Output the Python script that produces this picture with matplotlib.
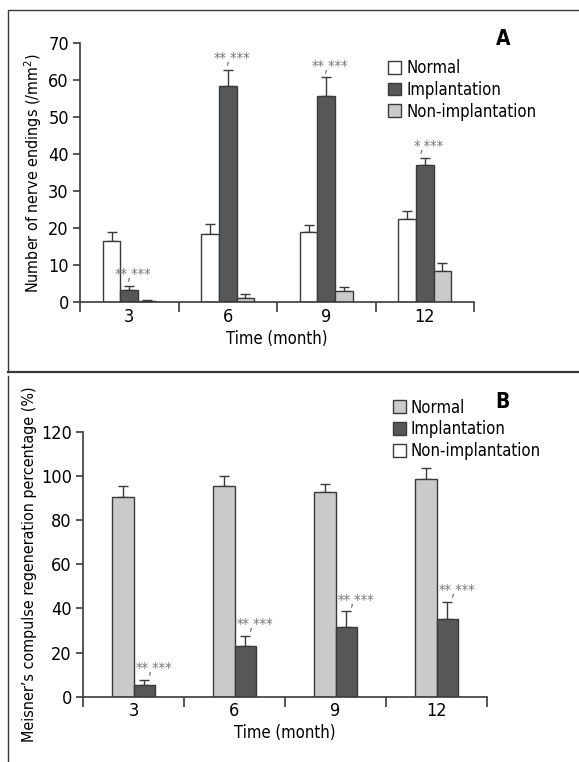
import numpy as np
import matplotlib
matplotlib.use('Agg')
import matplotlib.pyplot as plt
from matplotlib.patches import Patch
from matplotlib.lines import Line2D

plt.rcParams['font.family'] = ['DejaVu Sans']
plt.rcParams['font.stretch'] = 'condensed'

months = ['3', '6', '9', '12']
series_a = ['Normal', 'Implantation', 'Non-implantation']
# panel A: number of nerve endings
a_normal = [16.5, 18.5, 18.8, 22.3]
a_normal_err = [2.5, 2.5, 1.9, 2.2]
a_impl = [3.3, 58.4, 55.7, 37.1]
a_impl_err = [1.1, 4.4, 5.0, 1.8]
a_non = [0.3, 1.1, 2.9, 8.5]
a_non_err = [0.3, 1.0, 1.2, 2.1]
a_marks = ['**,***', '**,***', '**,***', '*,***']

# panel B: Meisner's corpuscle regeneration
b_normal = [90.5, 95.2, 92.8, 98.8]
b_normal_err = [4.8, 4.8, 3.6, 4.8]
b_impl = [5.1, 22.9, 31.4, 35.3]
b_impl_err = [2.4, 4.8, 7.2, 7.8]
b_marks = ['**,***', '**,***', '**,***', '**,***']

dark = '#555759'
light = '#c9cacc'
edge = '#3a3a3a'
W, H = 579, 762
fs = 11.5
tfs = 13

fig = plt.figure(figsize=(W / 100, H / 100), dpi=100)

# panel frames
fig.add_artist(Line2D([8 / W, 8 / W, 1], [1 - 372 / H, 1 - 10 / H, 1 - 10 / H], color=edge, lw=1))
fig.add_artist(Line2D([8 / W, 1], [1 - 372 / H, 1 - 372 / H], color=edge, lw=1.6))
fig.add_artist(Line2D([8 / W, 8 / W], [0, 1 - 376 / H], color=edge, lw=1))


def style(ax, ymax, step):
    for s in ['top', 'right']:
        ax.spines[s].set_visible(False)
    for s in ['left', 'bottom']:
        ax.spines[s].set_color(edge)
        ax.spines[s].set_linewidth(1.2)
    ax.set_xlim(0, 4)
    ax.set_ylim(0, ymax)
    ax.set_yticks(np.arange(0, ymax + 1, step))
    ax.set_xticks(np.arange(5))
    ax.set_xticklabels([])
    ax.set_xticks(np.arange(4) + 0.5, minor=True)
    ax.set_xticklabels(months, minor=True)
    ax.tick_params(axis='x', which='major', direction='out', length=7, width=1.2, color=edge)
    ax.tick_params(axis='x', which='minor', length=0, labelsize=tfs, pad=4)
    ax.tick_params(axis='y', direction='out', length=5, width=1.2, color=edge, labelsize=tfs, pad=3)
    ax.set_xlabel('Time (month)', fontsize=fs + 0.5, labelpad=3)


def bars(ax, x, vals, errs, color):
    ax.bar(x, vals, width=bw, color=color, edgecolor=edge, linewidth=1, zorder=2)
    ax.errorbar(x, vals, yerr=[np.zeros(len(vals)), errs], fmt='none', ecolor=edge,
                elinewidth=1, capsize=3.5, capthick=1, zorder=1)


def legend(ax, colors, anchor):
    ax.legend(handles=[Patch(facecolor=c, edgecolor=edge, label=l) for c, l in zip(colors, series_a)],
              loc='upper left', bbox_to_anchor=anchor, frameon=False, fontsize=12,
              handlelength=0.8, handleheight=0.8, handletextpad=0.3, labelspacing=0.22, borderaxespad=0)


# ---- panel A
axA = fig.add_axes([80 / W, 1 - 302 / H, 394 / W, 259 / H])
style(axA, 70, 10)
bw = 0.178
xc = np.arange(4) + 0.5
bars(axA, xc - bw, a_normal, a_normal_err, 'white')
bars(axA, xc, a_impl, a_impl_err, dark)
bars(axA, xc + bw, a_non, a_non_err, light)
for i in range(4):
    axA.annotate(a_marks[i], (xc[i] + 0.04, a_impl[i] + a_impl_err[i]), xytext=(0, 2),
                 textcoords='offset points', ha='center', va='bottom', fontsize=10.5, color='#777777')
axA.set_ylabel('Number of nerve endings (/mm$^2$)', fontsize=fs, labelpad=3)
legend(axA, ['white', dark, light], (0.765, 0.963))
fig.text(503 / W, 1 - 39 / H, 'A', fontsize=15, fontweight='bold', ha='center', va='center')

# ---- panel B
axB = fig.add_axes([83 / W, 1 - 696.7 / H, 404 / W, 265 / H])
style(axB, 120, 20)
bw = 0.208
bars(axB, xc - bw / 2, b_normal, b_normal_err, light)
bars(axB, xc + bw / 2, b_impl, b_impl_err, dark)
for i in range(4):
    axB.annotate(b_marks[i], (xc[i] + bw / 2 + 0.1, b_impl[i] + b_impl_err[i]), xytext=(0, 2),
                 textcoords='offset points', ha='center', va='bottom', fontsize=10.5, color='#777777')
axB.set_ylabel('Meisner\u2019s compulse regeneration percentage (%)', fontsize=fs, labelpad=3)
legend(axB, [light, dark, 'white'], (0.75, 1.15))
fig.text(502 / W, 1 - 402 / H, 'B', fontsize=15, fontweight='bold', ha='center', va='center')

fig.savefig('out.png', dpi=100)
